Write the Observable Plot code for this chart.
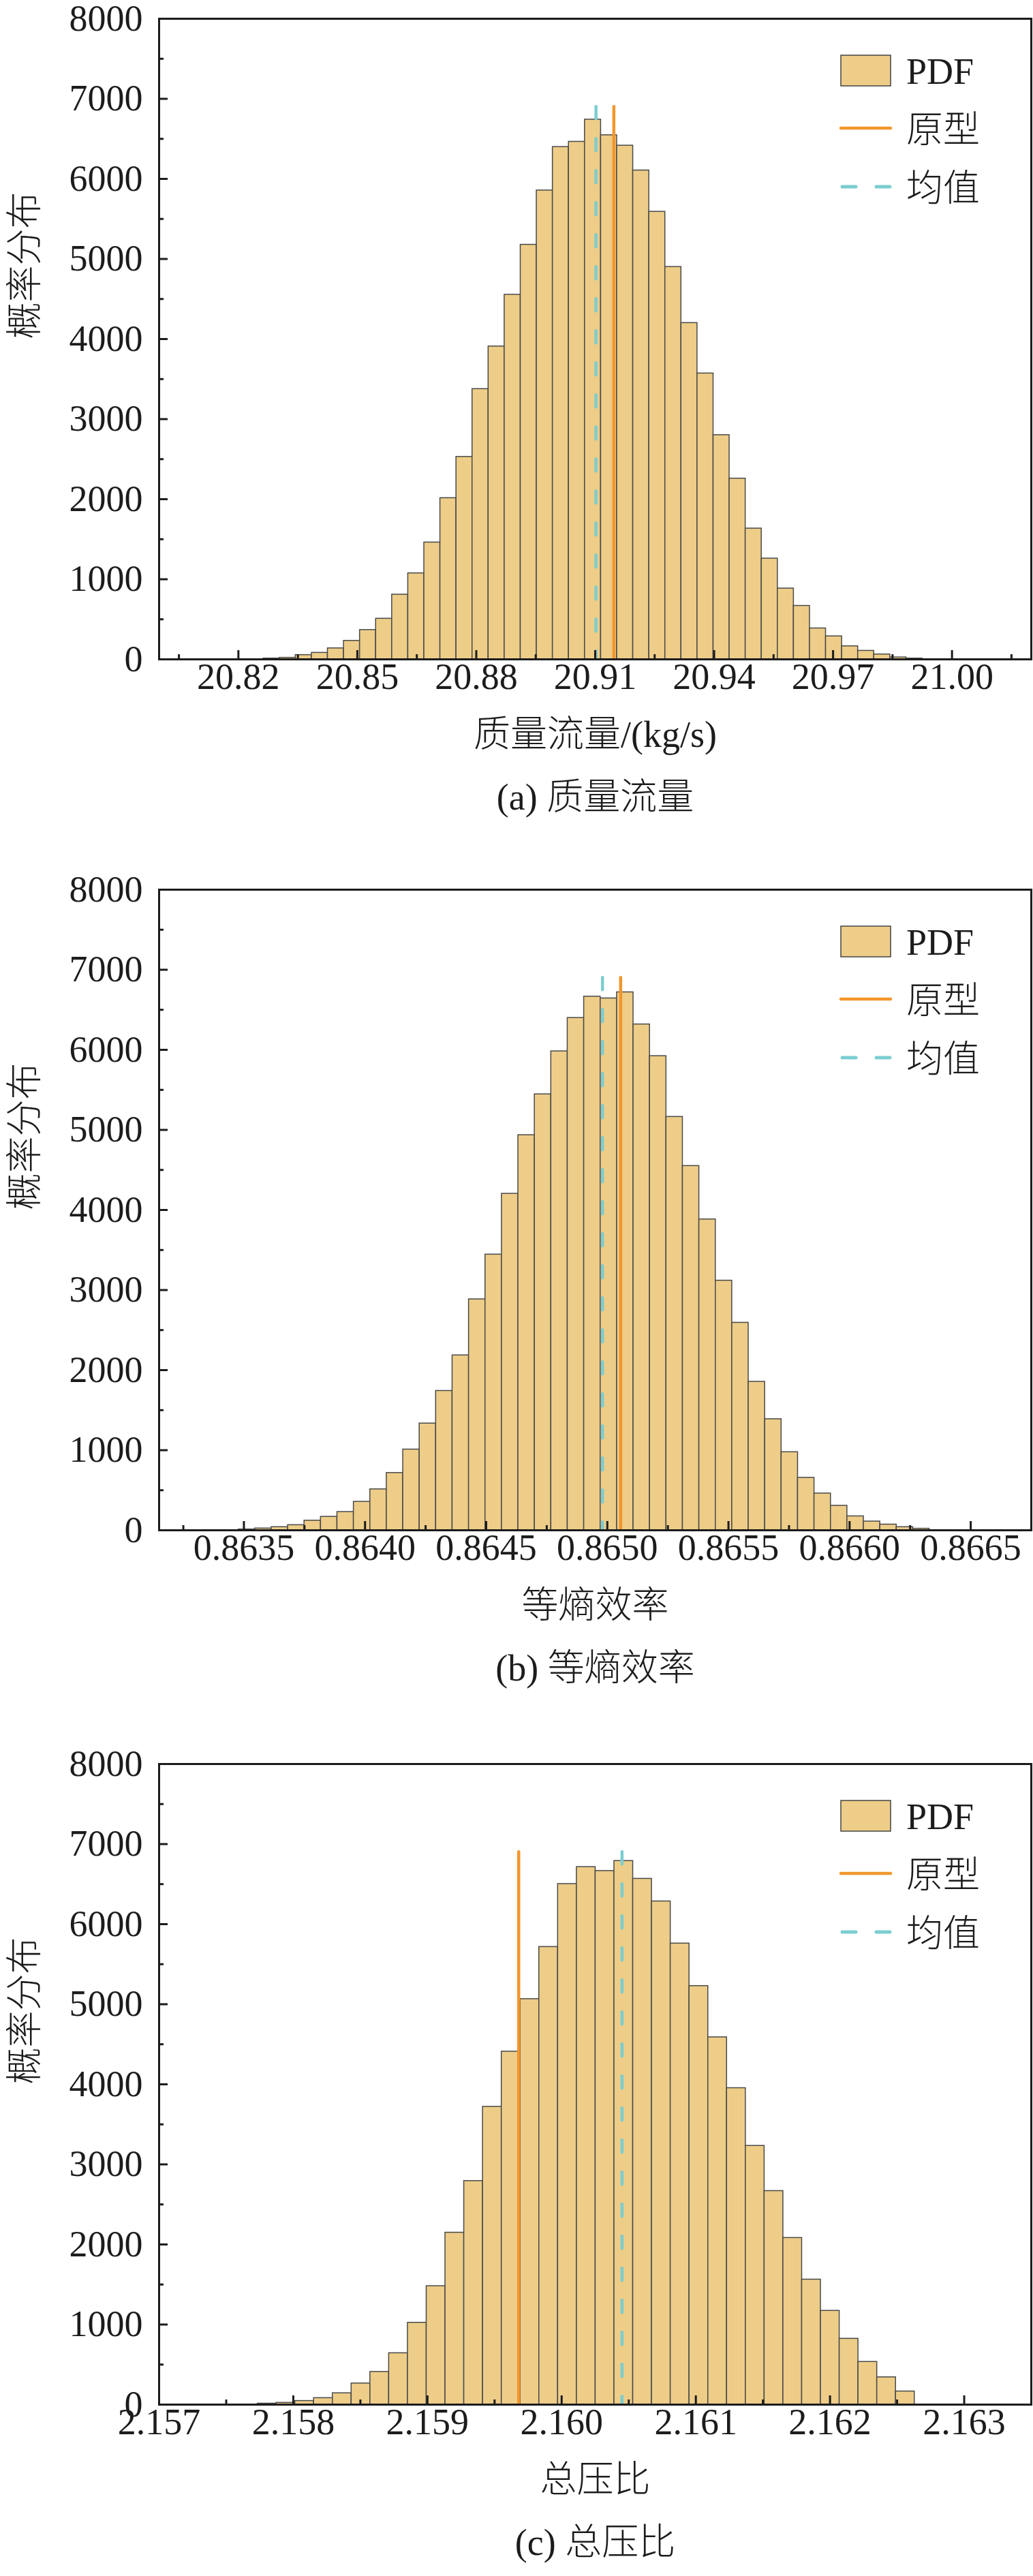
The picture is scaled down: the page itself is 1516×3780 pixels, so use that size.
<!DOCTYPE html>
<html><head><meta charset="utf-8">
<script src="https://cdn.jsdelivr.net/npm/d3@7"></script>
<script src="https://cdn.jsdelivr.net/npm/@observablehq/plot@0.6"></script>
<style>
body{margin:0;background:#fff;width:1516px;height:3780px;position:relative;overflow:hidden}
.panel{position:absolute;left:0;width:1516px}
.panel svg{display:block}
.legend{position:absolute;left:0;top:0;overflow:visible}
</style></head><body>
<script>
// ---------- data ----------
const yMajor = [0,1000,2000,3000,4000,5000,6000,7000,8000];
const yMinor = [500,1500,2500,3500,4500,5500,6500,7500];

// (a) 质量流量
const aCounts = [11,20,54,82,138,232,367,508,809,1075,1460,2014,2529,3376,3908,4554,5178,5856,6399,6464,6741,6546,6416,6106,5590,4901,4201,3571,2801,2258,1634,1259,885,668,387,288,164,107,62,25,11];
const aBinStart = 20.82633, aBinWidth = 0.004053;
const aDomain = [20.80, 21.02];
const aMajor = [20.82,20.85,20.88,20.91,20.94,20.97,21.00];
const aMinor = [20.805,20.835,20.865,20.895,20.925,20.955,20.985,21.015];
const aProto = 20.9147, aMean = 20.9102;

// (b) 等熵效率
const bCounts = [11,23,40,65,121,169,229,356,512,716,1009,1334,1741,2185,2885,3444,4203,4935,5445,5982,6399,6665,6643,6719,6318,5922,5163,4550,3883,3118,2592,1855,1388,976,656,460,307,175,110,72,40,20];
const bBinStart = 0.863478, bBinWidth = 0.0000679;
const bDomain = [0.86315, 0.86675];
const bMajor = [0.8635,0.8640,0.8645,0.8650,0.8655,0.8660,0.8665];
const bMinor = [0.86325,0.86375,0.86425,0.86475,0.86525,0.86575,0.86625];
const bProto = 0.865055, bMean = 0.86498;

// (c) 总压比
const cCounts = [13,23,46,82,143,265,409,643,1023,1480,2148,2793,3720,4409,5065,5716,6502,6714,6665,6790,6567,6285,5759,5228,4588,3953,3232,2668,2082,1562,1172,823,534,342,165];
const cBinStart = 2.157734, cBinWidth = 0.0001399;
const cDomain = [2.157, 2.1635];
const cMajor = [2.157,2.158,2.159,2.160,2.161,2.162,2.163];
const cMinor = [2.1575,2.1585,2.1595,2.1605,2.1615,2.1625];
const cProto = 2.15968, cMean = 2.16045;

const lineTop = 6900;
const legendLabels = ["PDF","原型","均值"];

// ---------- style ----------
const FILL = "#EDCD88", ORANGE = "#F2962C", CYAN = "#7BCDD0", INK = "#1c1c1c";
const SERIF = "'Liberation Serif','Times New Roman','Noto Sans CJK SC',serif";
const W = 1516, ML = 233, MR = 3, MT = 27, FH = 940, MB = 270;
const FW = W - ML - MR;

const panels = [
  {top: 0, counts: aCounts, start: aBinStart, width: aBinWidth, domain: aDomain, major: aMajor, minor: aMinor,
   proto: aProto, mean: aMean, fmt: d => d.toFixed(2), title: "质量流量/(kg/s)", caption: "(a) 质量流量"},
  {top: 1278, counts: bCounts, start: bBinStart, width: bBinWidth, domain: bDomain, major: bMajor, minor: bMinor,
   proto: bProto, mean: bMean, fmt: d => d.toFixed(4), title: "等熵效率", caption: "(b) 等熵效率"},
  {top: 2561, counts: cCounts, start: cBinStart, width: cBinWidth, domain: cDomain, major: cMajor, minor: cMinor,
   proto: cProto, mean: cMean, fmt: d => d.toFixed(3), title: "总压比", caption: "(c) 总压比"}
];

function makePlot(p) {
  const bins = p.counts.map((c, i) => ({x1: p.start + i * p.width, x2: p.start + (i + 1) * p.width, y: c}));
  const tickStyle = {stroke: INK, strokeWidth: 3};
  const txt = {fontFamily: SERIF, fill: INK};
  const cjk = {fontFamily: SERIF, fill: INK, fontWeight: 300};
  return Plot.plot({
    width: W, height: MT + FH + MB,
    marginTop: MT, marginLeft: ML, marginRight: MR, marginBottom: MB,
    x: {domain: p.domain, axis: null},
    y: {domain: [0, 8000], axis: null},
    style: {background: "white", fontFamily: SERIF, overflow: "visible"},
    marks: [
      Plot.rectY(bins, {x1: "x1", x2: "x2", y: "y", fill: FILL, stroke: "#4a4a4a", strokeWidth: 1.5}),
      Plot.ruleX([p.proto], {x: d => d, y1: 0, y2: lineTop, stroke: ORANGE, strokeWidth: 4.5, strokeLinecap: "round"}),
      Plot.ruleX([p.mean], {x: d => d, y1: lineTop, y2: 0, stroke: CYAN, strokeWidth: 4.5, strokeDasharray: "18 29", strokeLinecap: "round"}),
      Plot.tickX(p.major, {x: d => d, insetTop: FH - 13, ...tickStyle}),
      Plot.tickX(p.minor, {x: d => d, insetTop: FH - 7, ...tickStyle}),
      Plot.tickY(yMajor, {y: d => d, insetRight: FW - 13, ...tickStyle}),
      Plot.tickY(yMinor, {y: d => d, insetRight: FW - 7, ...tickStyle}),
      Plot.frame({stroke: INK, strokeWidth: 3}),
      Plot.text(yMajor, {y: d => d, text: d => String(d), frameAnchor: "left", dx: -24, textAnchor: "end", fontSize: 54, ...txt}),
      Plot.text(p.major, {x: d => d, text: p.fmt, frameAnchor: "bottom", dy: 43, fontSize: 54, ...txt}),
      Plot.text([p.title], {text: d => d, frameAnchor: "bottom", dy: 128, fontSize: 54, ...cjk}),
      Plot.text([p.caption], {text: d => d, frameAnchor: "bottom", dy: 220, fontSize: 54, ...cjk}),
      Plot.text(["概率分布"], {text: d => d, frameAnchor: "left", dx: -196, rotate: -90, fontSize: 54, ...cjk})
    ]
  });
}

function addLegend(div) {
  const svg = d3.select(div).append("svg").attr("class", "legend").attr("width", W).attr("height", 320);
  svg.append("rect").attr("x", 1234).attr("y", 81).attr("width", 73).attr("height", 45)
    .attr("fill", FILL).attr("stroke", "#444").attr("stroke-width", 1.5);
  svg.append("line").attr("x1", 1234).attr("x2", 1307).attr("y1", 188).attr("y2", 188)
    .attr("stroke", ORANGE).attr("stroke-width", 4.5).attr("stroke-linecap", "round");
  svg.append("line").attr("x1", 1236).attr("x2", 1306).attr("y1", 274).attr("y2", 274)
    .attr("stroke", CYAN).attr("stroke-width", 5).attr("stroke-linecap", "round").attr("stroke-dasharray", "20 30");
  const ys = [104, 190, 276];
  legendLabels.forEach((t, i) => {
    svg.append("text").attr("x", 1330).attr("y", ys[i]).attr("dy", "0.35em")
      .attr("font-family", SERIF).attr("font-size", 54).attr("font-weight", i === 0 ? 400 : 300)
      .attr("fill", INK).text(t);
  });
}

panels.forEach(p => {
  const div = document.createElement("div");
  div.className = "panel";
  div.style.top = p.top + "px";
  div.appendChild(makePlot(p));
  document.body.appendChild(div);
  addLegend(div);
});
</script></body></html>
